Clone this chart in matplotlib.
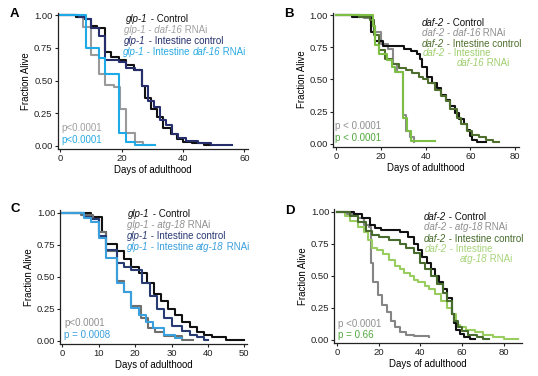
import matplotlib
matplotlib.use("Agg")
import matplotlib.pyplot as plt

plt.rcParams['font.family'] = ['Liberation Sans', 'DejaVu Sans']

W, H = 538, 376

# ---- Panel A: glp-1 / daf-16 ----
a_ctrl_t = [0, 5, 8, 10, 12, 14.5, 16.5, 19, 21.5, 24, 26.5, 27.5, 29.5, 31.5, 33.5, 36, 38, 40, 43, 47, 49]
a_ctrl_s = [1, 0.99, 0.97, 0.92, 0.90, 0.72, 0.68, 0.66, 0.62, 0.58, 0.46, 0.37, 0.28, 0.22, 0.14, 0.09, 0.05, 0.03, 0.02, 0.01, 0.01]
a_rnai_t = [0, 5, 7.5, 10, 12.5, 14.5, 17.5, 19.5, 21.5, 24.5, 27, 30, 30]
a_rnai_s = [1, 0.99, 0.91, 0.70, 0.55, 0.47, 0.45, 0.28, 0.10, 0.03, 0.01, 0.01, 0.01]
a_ictl_t = [0, 6, 8, 10, 12.5, 14.5, 16.5, 19, 21.5, 24.5, 26.5, 28.5, 30.5, 32.5, 34.5, 36.5, 38.5, 41, 45, 49, 56]
a_ictl_s = [1, 0.99, 0.97, 0.90, 0.84, 0.66, 0.66, 0.64, 0.60, 0.58, 0.46, 0.34, 0.30, 0.20, 0.16, 0.09, 0.06, 0.04, 0.02, 0.01, 0.01]
a_irna_t = [0, 8.5, 12.5, 14.5, 19.3, 21.5, 24.5, 31]
a_irna_s = [1, 0.75, 0.67, 0.55, 0.10, 0.03, 0.01, 0.01]

# ---- Panel B: daf-2 / daf-16 ----
b_ctrl_t = [0, 7, 15.5, 17.5, 21, 30.5, 33.5, 36, 37.5, 38.5, 40.5, 43, 45, 47, 49, 51, 53, 55, 57, 58.5, 60, 61, 63, 67]
b_ctrl_s = [1, 0.99, 0.87, 0.80, 0.76, 0.74, 0.72, 0.70, 0.66, 0.60, 0.52, 0.47, 0.43, 0.38, 0.34, 0.29, 0.24, 0.19, 0.15, 0.11, 0.06, 0.03, 0.01, 0.01]
b_rnai_t = [0, 12.5, 16, 17.5, 20, 23, 25.5, 27, 30, 31, 33, 35, 35]
b_rnai_s = [1, 0.98, 0.92, 0.87, 0.78, 0.74, 0.62, 0.56, 0.22, 0.10, 0.05, 0.01, 0.01]
b_ictl_t = [0, 10, 15, 17, 19, 22, 25, 28, 31, 34, 37, 39, 41, 44, 47, 49, 51, 54, 56, 58.5, 61, 64, 67, 70, 73]
b_ictl_s = [1, 0.99, 0.96, 0.85, 0.73, 0.66, 0.62, 0.59, 0.57, 0.55, 0.52, 0.50, 0.47, 0.42, 0.37, 0.33, 0.27, 0.20, 0.15, 0.10, 0.07, 0.05, 0.03, 0.01, 0.01]
b_irna_t = [0, 16.5, 17.5, 19, 22.5, 25, 26.5, 30, 31.5, 33.5, 44]
b_irna_s = [1, 0.92, 0.77, 0.70, 0.65, 0.60, 0.56, 0.20, 0.10, 0.02, 0.02]

# ---- Panel C: glp-1 / atg-18 ----
c_ctrl_t = [0, 8, 11, 12, 15, 17, 19, 21, 23.2, 25.2, 27.2, 29, 31, 33, 35, 37, 39, 41, 45, 50]
c_ctrl_s = [1, 0.97, 0.85, 0.76, 0.70, 0.64, 0.58, 0.53, 0.45, 0.37, 0.31, 0.25, 0.20, 0.15, 0.11, 0.07, 0.05, 0.03, 0.01, 0.01]
c_rnai_t = [0, 5, 8.5, 10, 12, 15, 17, 19, 21.5, 23.5, 25.5, 28, 33, 36]
c_rnai_s = [1, 0.98, 0.95, 0.85, 0.70, 0.47, 0.38, 0.27, 0.18, 0.10, 0.07, 0.04, 0.01, 0.01]
c_ictl_t = [0, 6, 8, 10, 12, 15, 17, 19, 22, 24, 26, 28, 30, 33, 35, 37, 39, 40]
c_ictl_s = [1, 0.97, 0.95, 0.82, 0.71, 0.61, 0.58, 0.55, 0.45, 0.35, 0.25, 0.18, 0.12, 0.08, 0.05, 0.03, 0.01, 0.01]
c_irna_t = [0, 6, 8, 10, 12, 15, 17, 19, 21, 23, 25, 28, 31, 33]
c_irna_s = [1, 0.96, 0.93, 0.80, 0.65, 0.45, 0.38, 0.26, 0.20, 0.15, 0.10, 0.05, 0.02, 0.02]

# ---- Panel D: daf-2 / atg-18 ----
d_ctrl_t = [0, 8, 12, 16, 18, 21, 30, 34, 37, 39, 41, 43, 45, 47, 49, 51, 53, 55, 56, 57, 59, 61, 64, 66]
d_ctrl_s = [1, 0.98, 0.95, 0.90, 0.87, 0.86, 0.84, 0.80, 0.75, 0.70, 0.65, 0.60, 0.55, 0.50, 0.45, 0.40, 0.33, 0.20, 0.13, 0.08, 0.05, 0.02, 0.01, 0.01]
d_rnai_t = [0, 5, 10, 13, 15.5, 16.5, 17.5, 19.5, 21.5, 24, 26, 28, 30, 33, 37, 44]
d_rnai_s = [1, 0.98, 0.95, 0.90, 0.88, 0.60, 0.45, 0.35, 0.27, 0.22, 0.15, 0.10, 0.06, 0.04, 0.03, 0.02]
d_ictl_t = [0, 6, 10, 14, 17, 20, 25, 30, 33, 37, 40, 42, 45, 48, 51, 53, 55, 56, 58, 60, 63, 67, 70, 73]
d_ictl_s = [1, 0.97, 0.92, 0.85, 0.82, 0.80, 0.78, 0.75, 0.72, 0.68, 0.60, 0.55, 0.50, 0.44, 0.37, 0.30, 0.20, 0.15, 0.10, 0.07, 0.04, 0.02, 0.01, 0.01]
d_irna_t = [0, 4, 6, 10, 13, 15, 17, 19, 22, 25, 28, 30, 32, 35, 37, 39, 42, 44, 47, 50, 53, 55, 57, 59, 62, 66, 70, 75, 80, 87]
d_irna_s = [1, 0.97, 0.93, 0.88, 0.84, 0.78, 0.72, 0.70, 0.67, 0.62, 0.58, 0.55, 0.52, 0.50, 0.47, 0.45, 0.42, 0.40, 0.36, 0.30, 0.25, 0.20, 0.12, 0.10, 0.08, 0.06, 0.04, 0.02, 0.01, 0.01]

y_ticks = [0, 0.25, 0.5, 0.75, 1.0]
y_ticklabels = ["0.00", "0.25", "0.50", "0.75", "1.00"]

BLACK = '#111111'
NAVY = '#262F6C'
LW = 1.5
LEG_FS = 7
TICK_FS = 6.8


def px_axes(left, right, top, bottom):
    return [left / W, 1 - bottom / H, (right - left) / W, (bottom - top) / H]


def legend_line(ax, x, y, parts, color, size=LEG_FS):
    # one legend row, mixing italic gene names with plain text
    fig = ax.figure
    t = fig.text(x / W, 1 - y / H, parts[0][0], color=color, fontsize=size,
                 style='italic' if parts[0][1] else 'normal', va='center', ha='left')
    for s, it in parts[1:]:
        t = ax.annotate(s, xy=(1, 0.5), xycoords=t, va='center', ha='left',
                        color=color, fontsize=size,
                        style='italic' if it else 'normal',
                        annotation_clip=False, clip_on=False)
    return t


def setup_axes(ax, xlim, xticks):
    ax.patch.set_visible(False)
    for sp in ['top', 'right']:
        ax.spines[sp].set_visible(False)
    for sp in ['left', 'bottom']:
        ax.spines[sp].set_linewidth(0.9)
        ax.spines[sp].set_color('#222222')
    ax.set_xlim(*xlim)
    ax.set_ylim(-0.024, 1.022)
    ax.set_xticks(xticks)
    ax.set_yticks(y_ticks)
    ax.set_yticklabels(y_ticklabels)
    ax.tick_params(labelsize=TICK_FS, length=2.2, width=0.8, pad=1.5, colors='#222222')
    ax.set_xlabel("Days of adulthood", fontsize=6.9, labelpad=1.5)
    ax.set_ylabel("Fraction Alive", fontsize=6.9, labelpad=2)


fig = plt.figure(figsize=(W / 100, H / 100), dpi=100)

axA = fig.add_axes(px_axes(57.7, 248.3, 12.5, 149))
axB = fig.add_axes(px_axes(333, 518.7, 12.5, 146.7))
axC = fig.add_axes(px_axes(60.3, 247.3, 210, 344))
axD = fig.add_axes(px_axes(334.3, 522, 209, 343))

# A
axA.step(a_rnai_t, a_rnai_s, where='post', color='#9A9A9A', lw=LW)
axA.step(a_ctrl_t, a_ctrl_s, where='post', color=BLACK, lw=LW)
axA.step(a_ictl_t, a_ictl_s, where='post', color=NAVY, lw=LW)
axA.step(a_irna_t, a_irna_s, where='post', color='#1EAAE7', lw=LW)
setup_axes(axA, (-0.85, 61.3), [0, 20, 40, 60])

# B
axB.step(b_rnai_t, b_rnai_s, where='post', color='#8A8A8A', lw=LW)
axB.step(b_ctrl_t, b_ctrl_s, where='post', color=BLACK, lw=LW)
axB.step(b_ictl_t, b_ictl_s, where='post', color='#4F6F2F', lw=LW)
axB.step(b_irna_t, b_irna_s, where='post', color='#7DBF45', lw=LW)
setup_axes(axB, (-1.5, 81.7), [0, 20, 40, 60, 80])

# C
axC.step(c_ctrl_t, c_ctrl_s, where='post', color=BLACK, lw=LW)
axC.step(c_rnai_t, c_rnai_s, where='post', color='#6E6E6E', lw=LW)
axC.step(c_ictl_t, c_ictl_s, where='post', color='#283A72', lw=LW)
axC.step(c_irna_t, c_irna_s, where='post', color='#3A9FDD', lw=LW)
setup_axes(axC, (-0.55, 50.8), [0, 10, 20, 30, 40, 50])

# D
axD.step(d_rnai_t, d_rnai_s, where='post', color='#858585', lw=LW)
axD.step(d_irna_t, d_irna_s, where='post', color='#9ACD5F', lw=LW)
axD.step(d_ctrl_t, d_ctrl_s, where='post', color=BLACK, lw=LW)
axD.step(d_ictl_t, d_ictl_s, where='post', color='#476B2C', lw=LW)
setup_axes(axD, (-1.3, 88.8), [0, 20, 40, 60, 80])

# panel letters
for x, y, s in [(14, 14, 'A'), (289, 14, 'B'), (15, 209, 'C'), (290, 211, 'D')]:
    fig.text(x / W, 1 - y / H, s, fontsize=9.5, fontweight='bold', va='center', ha='center')

# legends
legend_line(axA, 126, 19, [("glp-1", True), (" - Control", False)], BLACK)
legend_line(axA, 124, 30, [("glp-1 - daf-16", True), (" RNAi", False)], '#A0A0A0')
legend_line(axA, 124, 40.7, [("glp-1", True), (" - Intestine control", False)], NAVY)
legend_line(axA, 123, 51.7, [("glp-1", True), (" - Intestine ", False), ("daf-16", True), (" RNAi", False)], '#2AAAE2')

legend_line(axB, 422, 23.3, [("daf-2", True), (" - Control", False)], BLACK)
legend_line(axB, 422, 33.3, [("daf-2 - daf-16", True), (" RNAi", False)], '#909090')
legend_line(axB, 422, 44, [("daf-2", True), (" - Intestine control", False)], '#4F6F2F')
legend_line(axB, 423, 53.3, [("daf-2", True), (" - Intestine", False)], '#9FCF6F')
legend_line(axB, 457, 63.3, [("daf-16", True), (" RNAi", False)], '#9FCF6F')

legend_line(axC, 128, 214, [("glp-1", True), (" - Control", False)], BLACK)
legend_line(axC, 127, 224.7, [("glp-1 - atg-18", True), (" RNAi", False)], '#909090')
legend_line(axC, 127, 235.7, [("glp-1", True), (" - Intestine control", False)], '#283A72')
legend_line(axC, 126.5, 247.3, [("glp-1", True), (" - Intestine ", False), ("atg-18", True), (" RNAi", False)], '#3A9FDD')

legend_line(axD, 424, 217.3, [("daf-2", True), (" - Control", False)], BLACK)
legend_line(axD, 424, 227.3, [("daf-2 - atg-18", True), (" RNAi", False)], '#909090')
legend_line(axD, 424, 238.7, [("daf-2", True), (" - Intestine control", False)], '#476B2C')
legend_line(axD, 425, 249, [("daf-2", True), (" - Intestine", False)], '#A8D47A')
legend_line(axD, 459.7, 258.7, [("atg-18", True), (" RNAi", False)], '#A8D47A')

# p-values
fig.text(61 / W, 1 - 127.7 / H, "p<0.0001", color='#A0A0A0', fontsize=7, va='center')
fig.text(61 / W, 1 - 140 / H, "p<0.0001", color='#2AAAE2', fontsize=7, va='center')
fig.text(335 / W, 1 - 126 / H, "p < 0.0001", color='#909090', fontsize=7, va='center')
fig.text(335 / W, 1 - 137.7 / H, "p < 0.0001", color='#4FA83D', fontsize=7, va='center')
fig.text(64 / W, 1 - 323 / H, "p<0.0001", color='#909090', fontsize=7, va='center')
fig.text(64 / W, 1 - 334.7 / H, "p = 0.0008", color='#3A9FDD', fontsize=7, va='center')
fig.text(338 / W, 1 - 323.7 / H, "p <0.0001", color='#909090', fontsize=7, va='center')
fig.text(338 / W, 1 - 335 / H, "p = 0.66", color='#4FA83D', fontsize=7, va='center')

fig.savefig("out.png", dpi=100)
